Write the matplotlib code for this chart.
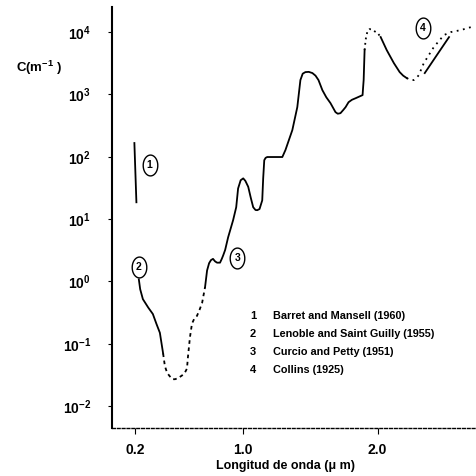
import matplotlib.pyplot as plt
import numpy as np
from matplotlib.path import Path
from matplotlib.ticker import FixedLocator, FuncFormatter, NullLocator

plt.rcParams['font.family'] = ['Liberation Sans', 'DejaVu Sans']
plt.rcParams['font.weight'] = 'bold'
plt.rcParams['mathtext.fontset'] = 'custom'
plt.rcParams['mathtext.rm'] = 'Liberation Sans:bold'
plt.rcParams['mathtext.it'] = 'Liberation Sans:bold'
plt.rcParams['mathtext.bf'] = 'Liberation Sans:bold'

# Barret and Mansell (1960)
bm_wl = [0.197, 0.212]
bm_c = [166, 18.6]

# Lenoble and Saint Guilly (1955): measured part, then extrapolated part
ls_wl = [0.23, 0.24, 0.26, 0.30, 0.334, 0.36, 0.386, 0.41]
ls_c = [1.08, 0.75, 0.52, 0.38, 0.30, 0.21, 0.15, 0.070]
ls_ext_wl = [0.41, 0.423, 0.44, 0.46, 0.48, 0.498, 0.52, 0.55, 0.57, 0.587, 0.594,
             0.609, 0.624, 0.64, 0.661, 0.68, 0.699, 0.721]
ls_ext_c = [0.070, 0.044, 0.034, 0.030, 0.027, 0.027, 0.028, 0.031, 0.034, 0.040, 0.061,
            0.127, 0.21, 0.25, 0.28, 0.35, 0.45, 0.81]

# Curcio and Petty (1951)
cp_wl = [0.721, 0.736, 0.751, 0.765, 0.78, 0.795, 0.81, 0.832, 0.845, 0.855, 0.87,
         0.892, 0.929, 0.952, 0.966, 0.985, 1.004, 1.02, 1.041, 1.06, 1.078, 1.095,
         1.108, 1.125, 1.145, 1.152, 1.16, 1.17, 1.182, 1.227, 1.294, 1.317, 1.368,
         1.405, 1.428, 1.445, 1.465, 1.49, 1.517, 1.54, 1.562, 1.591, 1.62, 1.651,
         1.688, 1.705, 1.725, 1.745, 1.763, 1.785, 1.81, 1.838, 1.889, 1.893, 1.897,
         1.904]
cp_c = [0.81, 1.5, 1.96, 2.2, 2.3, 2.1, 2.0, 2.0, 2.3, 2.6, 3.2,
        5.1, 9.6, 15.5, 31, 42, 45, 41, 33, 22, 15.5, 14,
        13.9, 14.5, 20, 45, 88, 96, 99, 99, 99, 128, 267,
        625, 1700, 2150, 2280, 2300, 2200, 2000, 1700, 1170, 900, 725,
        520, 490, 500, 560, 625, 750, 820, 870, 975, 1300, 1700,
        5140]
cp_gap_wl = [1.904, 1.912, 1.925, 1.941, 1.956, 1.971, 2.001, 2.023]
cp_gap_c = [5140, 7600, 10300, 11170, 11000, 10500, 9640, 8320]
cp_tail_wl = [2.023, 2.068, 2.121, 2.164, 2.19, 2.216]
cp_tail_c = [8320, 5140, 3180, 2280, 2000, 1830]
cp_ext_wl = [2.216, 2.246, 2.269, 2.29, 2.306, 2.343, 2.417, 2.492, 2.544, 2.618, 2.693]
cp_ext_c = [1830, 1700, 1700, 1850, 2040, 3180, 5740, 8950, 10000, 10770, 12020]

# Collins (1925)
co_wl = [2.35, 2.44, 2.53]
co_c = [2200, 4280, 8300]

# curve tags
tag_text = ['1', '2', '3', '4']
tag_wl = [0.31, 0.23, 0.96, 2.335]
tag_c = [74, 1.7, 2.35, 11600]

refs = ['Barret and Mansell (1960)', 'Lenoble and Saint Guilly (1955)',
        'Curcio and Petty (1951)', 'Collins (1925)']

fig = plt.figure(figsize=(4.76, 4.76), dpi=100)
ax = fig.add_axes([0.235, 0.101, 0.765, 0.884])

lw = 1.3
ax.plot(bm_wl, bm_c, color='k', lw=lw)
ax.plot(ls_wl, ls_c, color='k', lw=lw)
ax.plot(ls_ext_wl, ls_ext_c, color='k', lw=lw, ls=(0, (2, 2)))
ax.plot(cp_wl, cp_c, color='k', lw=lw, solid_joinstyle='round')
ax.plot(cp_gap_wl, cp_gap_c, color='k', lw=lw, ls=(0, (1, 2)))
ax.plot(cp_tail_wl, cp_tail_c, color='k', lw=lw)
ax.plot(cp_ext_wl, cp_ext_c, color='k', lw=lw, ls=(0, (1, 2.5)))
ax.plot(co_wl, co_c, color='k', lw=lw)

# elliptical rings around the curve numbers
t = np.linspace(0, 2 * np.pi, 60)
ring = Path(np.column_stack([0.7 * np.cos(t), np.sin(t)]))
for s, x, y in zip(tag_text, tag_wl, tag_c):
    ax.plot(x, y, marker=ring, ms=15, mfc='none', mec='k', mew=1.0)
    ax.text(x, y, s, ha='center', va='center', fontsize=7.5, fontweight='bold')

for i, r in enumerate(refs):
    yy = 0.337 - i * 0.038
    fig.text(0.532, yy, str(i + 1), ha='center', va='center', fontsize=8)
    fig.text(0.573, yy, r, ha='left', va='center', fontsize=7.8)

ax.set_yscale('log')
ax.set_xlim(0.03, 2.73)
ax.set_ylim(10 ** -2.35, 10 ** 4.4)

ax.xaxis.set_major_locator(FixedLocator([0.2, 1.0, 2.0]))
ax.xaxis.set_major_formatter(FuncFormatter(lambda v, p: f'{v:.1f}'))
ax.yaxis.set_major_locator(FixedLocator([10.0 ** k for k in range(-2, 5)]))
ax.yaxis.set_major_formatter(FuncFormatter(lambda v, p: r'$10^{%d}$' % round(np.log10(v))))
ax.yaxis.set_minor_locator(NullLocator())
ax.tick_params(axis='y', length=3, width=0.8, pad=12, labelsize=10)
ax.tick_params(axis='x', length=4, width=0.8, pad=7, labelsize=10)

ax.spines['top'].set_visible(False)
ax.spines['right'].set_visible(False)
ax.spines['left'].set_linewidth(1.5)
ax.spines['bottom'].set_linewidth(1.0)
ax.spines['bottom'].set_linestyle((0, (2, 1.5)))

fig.text(0.082, 0.857, r'C(m$^{-1}$ )', ha='center', va='center', fontsize=9.5)
fig.text(0.60, 0.021, 'Longitud de onda (μ m)', ha='center', va='center', fontsize=9)

fig.savefig('out.png', dpi=100)
